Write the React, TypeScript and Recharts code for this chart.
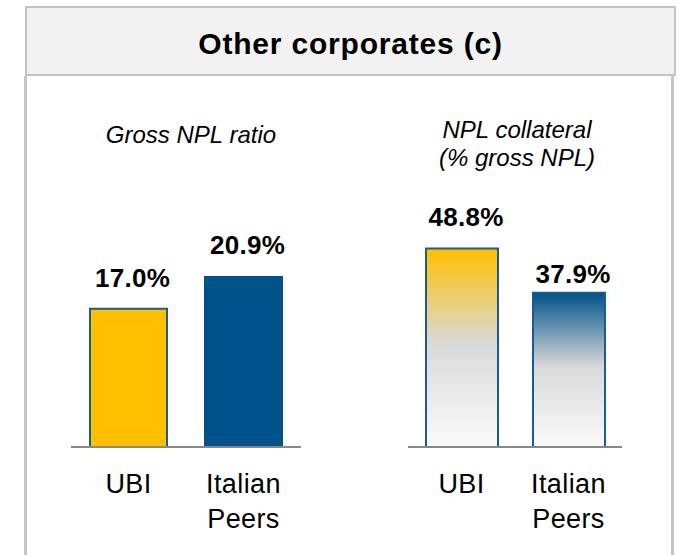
import { BarChart, Bar, XAxis, YAxis, Cell, LabelList } from "recharts";

const CATEGORIES = ["UBI", "Italian Peers"];
const GROSS_NPL_RATIO = [17.0, 20.9];
const NPL_COLLATERAL = [48.8, 37.9];

const FONT = '"Liberation Sans", Arial, sans-serif';
const BORDER_BLUE = "#1d5b8f";

const toRows = (values: number[]) =>
  CATEGORIES.map((name, i) => ({ name, value: values[i] }));

type PanelProps = {
  values: number[];
  max: number;
  left: number;
  width: number;
  barSize: number;
  fills: string[];
  strokes: string[];
  labelGaps: number[];
  children?: React.ReactNode;
};

function CategoryTick({ x, y, payload }: any) {
  const lines = String(payload.value).split(" ");
  return (
    <text
      x={x}
      y={y}
      textAnchor="middle"
      fill="#000"
      style={{ fontFamily: FONT, fontSize: 27, letterSpacing: 0.4 }}
    >
      {lines.map((line, i) => (
        <tspan key={line} x={x} dy={i === 0 ? 46 : 35}>
          {line}
        </tspan>
      ))}
    </text>
  );
}

function NplPanel({
  values,
  max,
  left,
  width,
  barSize,
  fills,
  strokes,
  labelGaps,
  children,
}: PanelProps) {
  return (
    <div style={{ position: "absolute", left, top: 170 }}>
      <BarChart
        width={width}
        height={380}
        data={toRows(values)}
        margin={{ top: 33, right: 0, left: 0, bottom: 13 }}
      >
        {children}
        <XAxis
          dataKey="name"
          height={90}
          tickLine={false}
          tickSize={0}
          tickMargin={0}
          axisLine={{ stroke: "#888888", strokeWidth: 2 }}
          tick={<CategoryTick />}
          interval={0}
        />
        <YAxis hide domain={[0, max]} />
        <Bar dataKey="value" barSize={barSize} isAnimationActive={false}>
          {values.map((_, i) => (
            <Cell key={i} fill={fills[i]} stroke={strokes[i]} strokeWidth={2} />
          ))}
          <LabelList
            dataKey="value"
            content={(p: any) => (
              <text
                x={p.x + p.width / 2 + 4}
                y={p.y - labelGaps[p.index]}
                textAnchor="middle"
                fill="#000"
                style={{
                  fontFamily: FONT,
                  fontSize: 26,
                  fontWeight: 700,
                  letterSpacing: 0.3,
                }}
              >
                {`${Number(p.value).toFixed(1)}%`}
              </text>
            )}
          />
        </Bar>
      </BarChart>
    </div>
  );
}

export default function App() {
  return (
    <div
      style={{
        position: "absolute",
        left: 0,
        top: 0,
        width: 680,
        height: 555,
        overflow: "hidden",
        background: "#fff",
        fontFamily: FONT,
        color: "#000",
      }}
    >
      <div
        style={{
          position: "absolute",
          left: 24,
          top: 76,
          width: 644,
          height: 500,
          borderLeft: "3px solid #c6c6c6",
          borderRight: "3px solid #c6c6c6",
        }}
      />
      <div
        style={{
          position: "absolute",
          left: 25,
          top: 6,
          width: 647,
          height: 66,
          background: "#f2f2f2",
          border: "2px solid #c3c3c3",
          textAlign: "center",
          fontSize: 30,
          fontWeight: 700,
          letterSpacing: 0.8,
          lineHeight: "30px",
        }}
      >
        <div style={{ paddingTop: 21 }}>Other corporates (c)</div>
      </div>

      <div
        style={{
          position: "absolute",
          left: 91,
          top: 121,
          width: 200,
          textAlign: "center",
          fontStyle: "italic",
          fontSize: 24,
          lineHeight: "28px",
        }}
      >
        Gross NPL ratio
      </div>
      <div
        style={{
          position: "absolute",
          left: 417,
          top: 116,
          width: 200,
          textAlign: "center",
          fontStyle: "italic",
          fontSize: 24,
          lineHeight: "28px",
        }}
      >
        NPL collateral
        <br />
        (% gross NPL)
      </div>

      <NplPanel
        values={GROSS_NPL_RATIO}
        max={30}
        left={71}
        width={230}
        barSize={77}
        fills={["#ffc000", "#00528a"]}
        strokes={[BORDER_BLUE, "#00528a"]}
        labelGaps={[22, 23]}
      />

      <NplPanel
        values={NPL_COLLATERAL}
        max={60}
        left={408}
        width={214}
        barSize={72}
        fills={["url(#ubiFade)", "url(#peersFade)"]}
        strokes={[BORDER_BLUE, BORDER_BLUE]}
        labelGaps={[23, 10]}
      >
        <defs>
          <linearGradient id="ubiFade" x1="0" y1="0" x2="0" y2="1">
            <stop offset="0%" stopColor="#ffc000" />
            <stop offset="48%" stopColor="#d9d9d9" />
            <stop offset="100%" stopColor="#fafafa" />
          </linearGradient>
          <linearGradient id="peersFade" x1="0" y1="0" x2="0" y2="1">
            <stop offset="0%" stopColor="#00528a" />
            <stop offset="48%" stopColor="#d9d9d9" />
            <stop offset="100%" stopColor="#fafafa" />
          </linearGradient>
        </defs>
      </NplPanel>
    </div>
  );
}
